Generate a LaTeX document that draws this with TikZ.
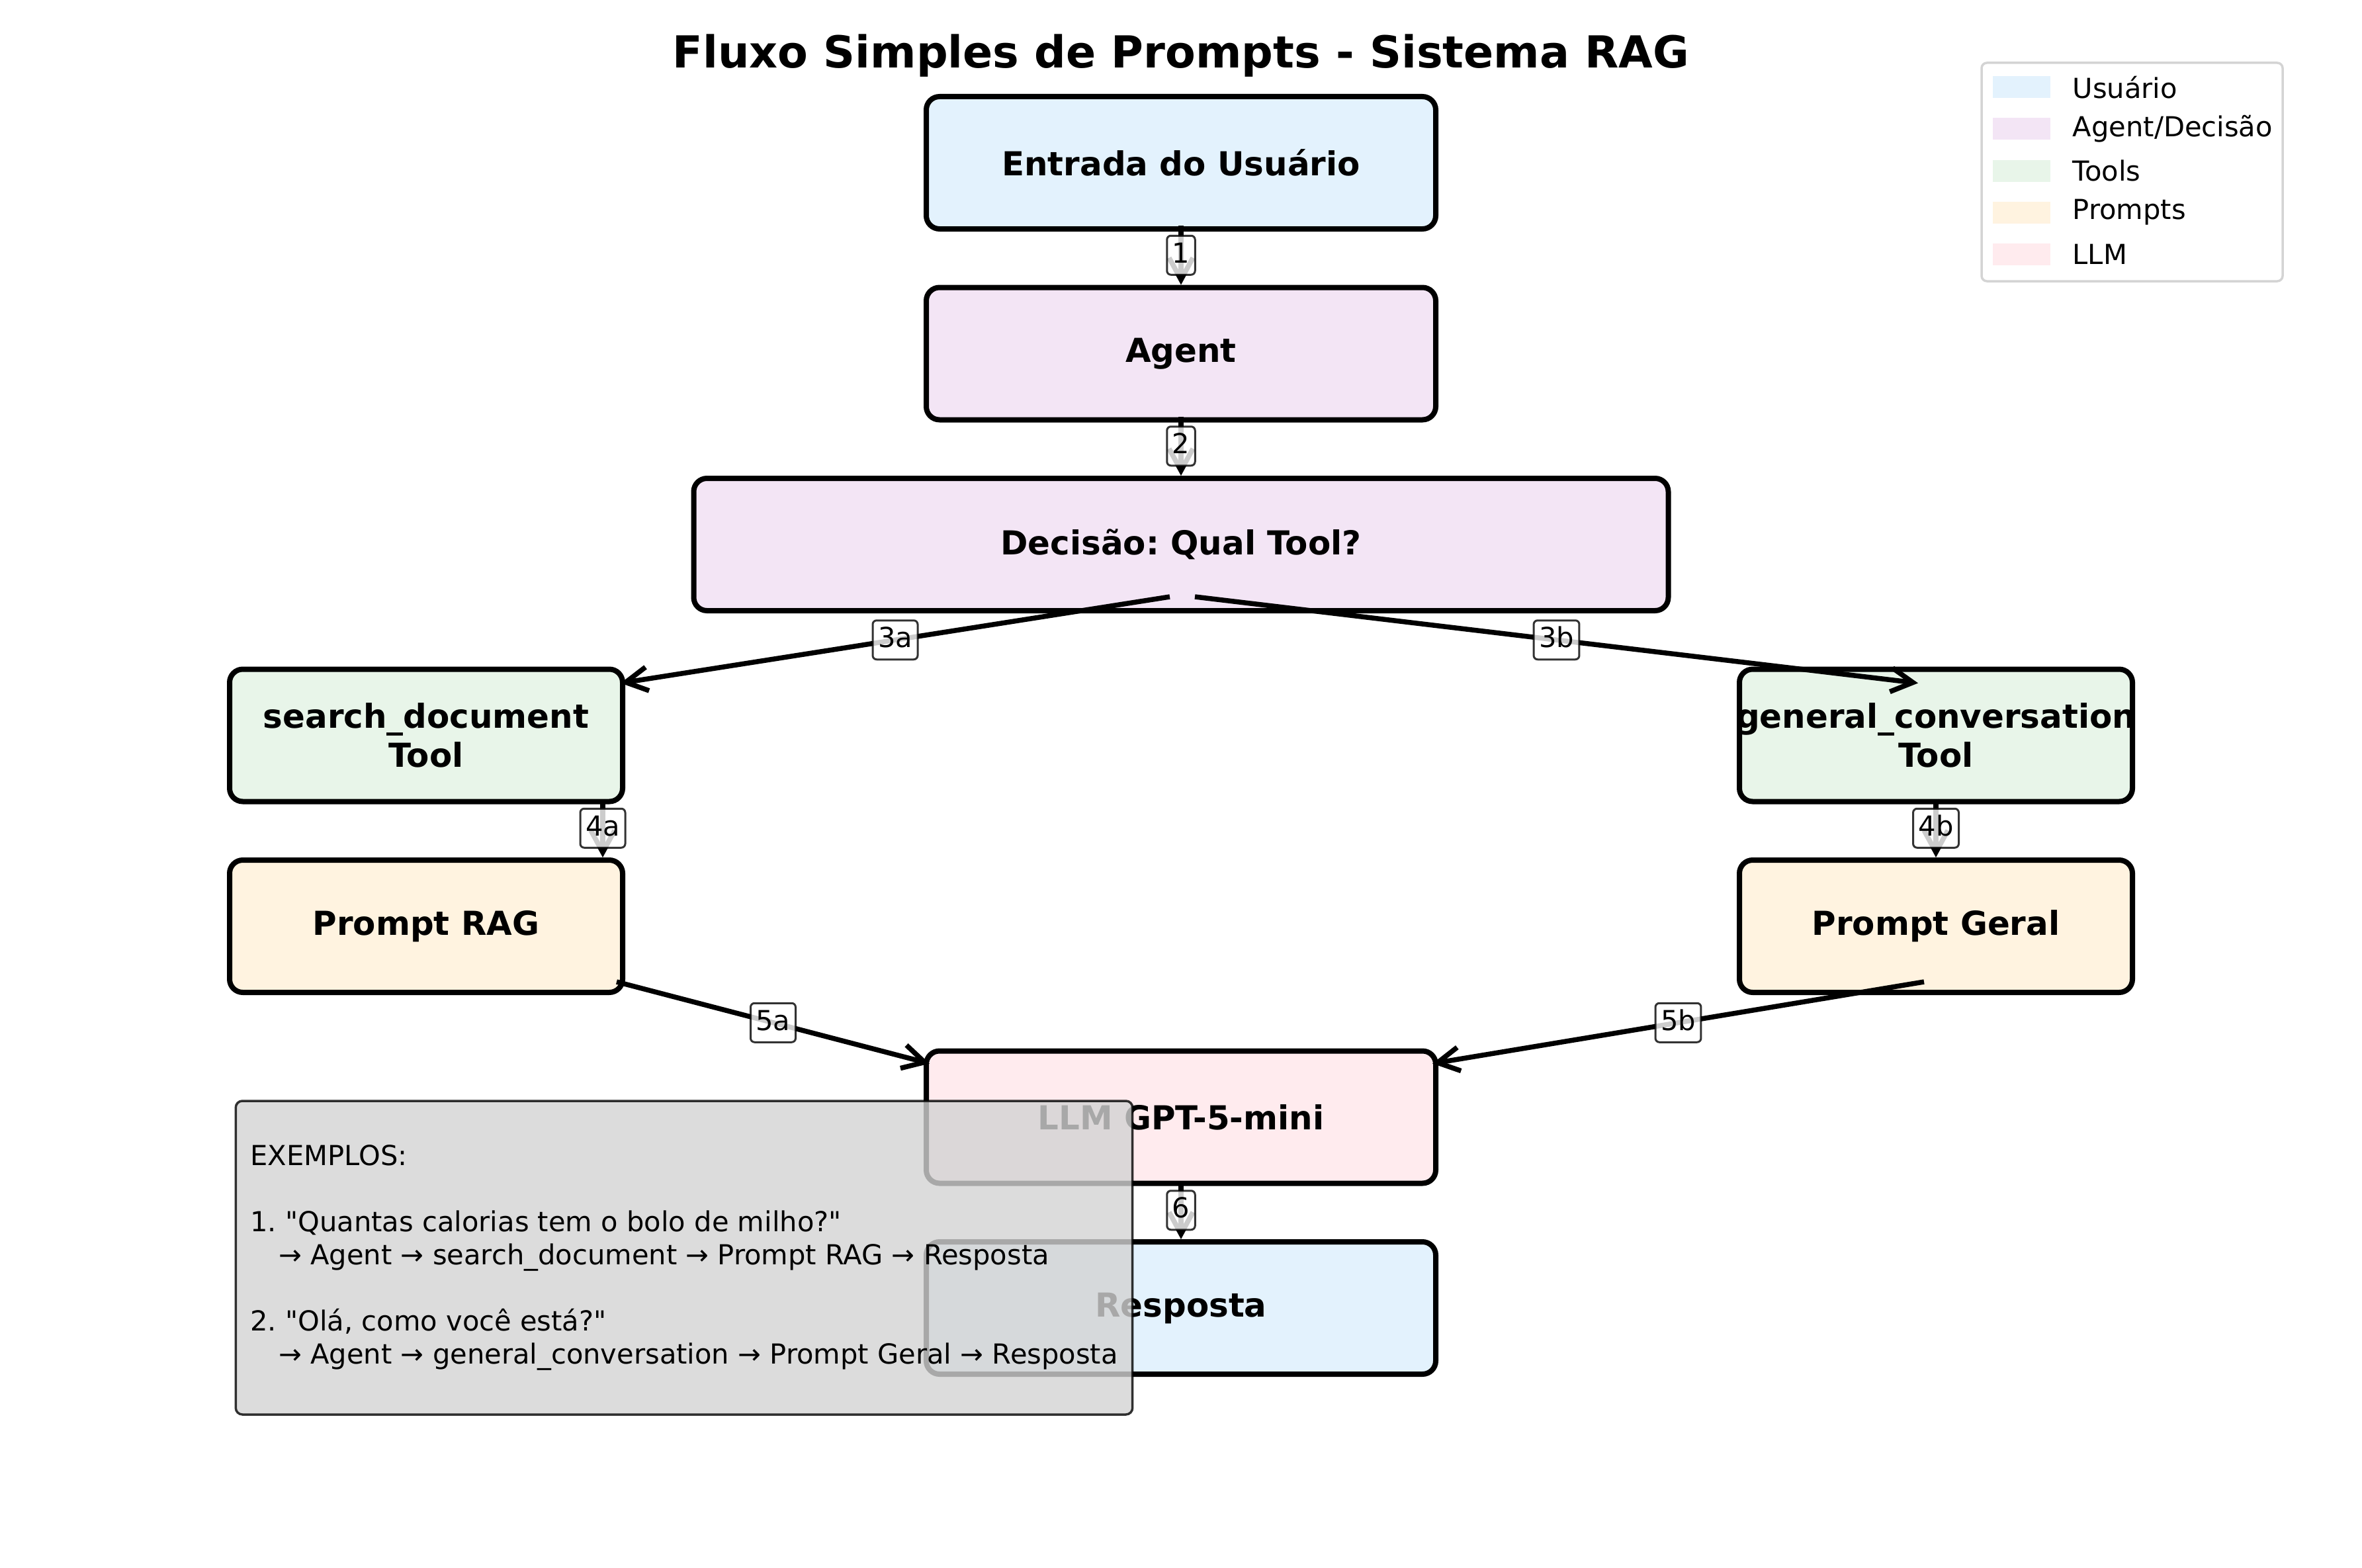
\documentclass[tikz,border=0pt]{standalone}
\usepackage{fontspec}
\setmainfont{DejaVu Sans}
\usepackage{tikz}
\usetikzlibrary{positioning, arrows.meta}

\definecolor{userblue}{HTML}{E3F2FD}
\definecolor{agentlilac}{HTML}{F3E5F5}
\definecolor{toolgreen}{HTML}{E8F5E9}
\definecolor{promptcream}{HTML}{FFF3E0}
\definecolor{llmpink}{HTML}{FFEBEE}
\definecolor{notegray}{HTML}{D3D3D3}

\begin{document}
\frenchspacing
\begin{tikzpicture}
	[on grid, node distance=2.885cm,
	 box/.style={draw, line width=0.08cm, rounded corners=0.2cm, minimum height=2cm, align=center,
	   font=\fontsize{14.2}{17}\selectfont\bfseries},
	 flow/.style={-{Straight Barb[length=0.33cm,width=0.36cm]}, line width=0.075cm},
	 tag/.style={draw, draw opacity=.8, fill=white, fill opacity=.8, text opacity=1, rounded corners=0.06cm,
	   line width=0.03cm, inner xsep=0.08cm, inner ysep=0.09cm, text height=0.32cm, text depth=0.09cm,
	   font=\fontsize{11.85}{14.2}\selectfont},
	 note/.style={draw, draw opacity=.8, fill=notegray, fill opacity=.8, text opacity=1, rounded corners=0.1cm,
	   line width=0.035cm, align=left, inner xsep=0.22cm, font=\fontsize{11.85}{14.2}\selectfont},
	 legframe/.style={draw=black!17, fill=white, rounded corners=0.08cm, line width=0.035cm},
	 swatch/.style={minimum width=0.87cm, minimum height=0.33cm, inner sep=0pt},
	 legtext/.style={anchor=west, inner xsep=0pt, font=\fontsize{11.85}{14.2}\selectfont}]
	\useasboundingbox (0,0) rectangle (35.70,-23.70);

	\node[font=\fontsize{18.97}{22}\selectfont\bfseries] (title) at (17.85,-0.84) {Fluxo Simples de Prompts - Sistema RAG};

	\node[box, fill=userblue, minimum width=7.70cm] (in_user) at (17.85,-2.46) {Entrada do Usuário};
	\node[box, fill=agentlilac, minimum width=7.70cm] (agent) [below=of in_user] {Agent};
	\node[box, fill=agentlilac, minimum width=14.73cm] (decide) [below=of agent] {Decisão: Qual Tool?};
	\node[box, fill=toolgreen, minimum width=5.94cm] (tool_doc) [below left=2.885cm and 11.41cm of decide] {search\_document\\Tool};
	\node[box, fill=toolgreen, minimum width=5.94cm] (tool_chat) [below right=2.885cm and 11.41cm of decide] {\makebox[0pt]{general\_conversation}\\Tool};
	\node[box, fill=promptcream, minimum width=5.94cm] (prompt_rag) [below=of tool_doc] {Prompt RAG};
	\node[box, fill=promptcream, minimum width=5.94cm] (prompt_gen) [below=of tool_chat] {Prompt Geral};
	\node[box, fill=llmpink, minimum width=7.70cm] (llm) [below right=2.885cm and 11.41cm of prompt_rag] {LLM GPT-5-mini};
	\node[box, fill=userblue, minimum width=7.70cm] (answer) [below=of llm] {Resposta};

	\path[flow]
	([yshift=0.09cm]in_user.south) edge node[tag] {1} (agent.north)
	([yshift=0.09cm]agent.south) edge node[tag] {2} (decide.north)
	([shift={(-0.17,0.25)}]decide.south) edge node[tag] {3a} ([shift={(-0.07,-0.25)}]tool_doc.north east)
	([shift={(0.21,0.25)}]decide.south) edge node[tag] {3b} ([shift={(-0.27,-0.25)}]tool_chat.north)
	([shift={(-0.34,0.08)}]tool_doc.south east) edge node[tag] {4a} ([xshift=-0.34cm]prompt_rag.north east)
	([yshift=0.08cm]tool_chat.south) edge node[tag] {4b} (prompt_gen.north)
	([shift={(-0.13,0.20)}]prompt_rag.south east) edge node[tag] {5a} ([shift={(0.09,-0.23)}]llm.north west)
	([shift={(-0.18,0.20)}]prompt_gen.south) edge node[tag] {5b} ([shift={(-0.09,-0.23)}]llm.north east)
	([yshift=0.07cm]llm.south) edge node[tag] {6} (answer.north);

	\node[note, minimum width=13.48cm, minimum height=4.74cm] (examples) at (10.34,-19.01)
	  {EXEMPLOS:\\[14.2pt]
	   1. \textquotedbl Quantas calorias tem o bolo de milho?\textquotedbl\\
	   \hspace*{0.43cm}→ Agent → search\_document → Prompt RAG → Resposta\\[14.2pt]
	   2. \textquotedbl Olá, como você está?\textquotedbl\\
	   \hspace*{0.43cm}→ Agent → general\_conversation → Prompt Geral → Resposta};

	\node[legframe, minimum width=4.55cm, minimum height=3.30cm] (legend) at (32.225,-2.60) {};
	\node[swatch, fill=userblue] (sw_user) at (30.555,-1.32) {};
	\node[swatch, fill=agentlilac] (sw_agent) [below=0.63cm of sw_user] {};
	\node[swatch, fill=toolgreen] (sw_tool) [below=0.63cm of sw_agent] {};
	\node[swatch, fill=promptcream] (sw_prompt) [below=0.63cm of sw_tool] {};
	\node[swatch, fill=llmpink] (sw_llm) [below=0.63cm of sw_prompt] {};
	\node[legtext] (lab_user) at (31.32,-1.32) {Usuário};
	\node[legtext] (lab_agent) at (31.32,-1.95) {Agent/Decisão};
	\node[legtext] (lab_tool) at (31.32,-2.58) {Tools};
	\node[legtext] (lab_prompt) at (31.32,-3.21) {Prompts};
	\node[legtext] (lab_llm) at (31.32,-3.84) {LLM};
\end{tikzpicture}
\end{document}
